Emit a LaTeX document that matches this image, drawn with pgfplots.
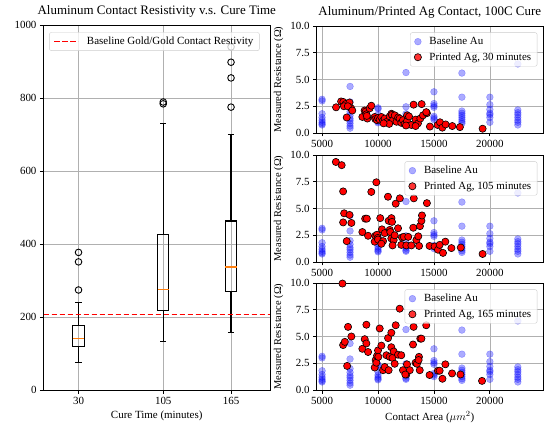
\documentclass[border=0pt]{standalone}
\usepackage{fontspec}
\setmainfont{Liberation Serif}
\usepackage{pgfplots}
\usepackage{pgfplotstable}
\pgfplotsset{compat=1.18}
\usepgfplotslibrary{statistics}
\definecolor{mplorange}{HTML}{FF7F0E}
\definecolor{gridgray}{HTML}{B0B0B0}
\definecolor{legedge}{HTML}{CCCCCC}

\pgfplotstableread{
x y
5000 3.15
5000 3.0
5000 1.8
5000 1.45
5000 1.2
5000 1.0
5000 0.85
5000 0.75
7500 4.35
7500 2.9
7500 2.0
7500 1.65
7500 1.35
7500 1.15
7500 0.9
7500 0.65
7500 0.45
10000 2.35
10000 2.25
10000 1.7
10000 1.4
10000 1.2
10000 1.05
10000 0.95
12500 5.65
12500 2.45
12500 1.8
12500 1.5
12500 1.3
12500 1.1
12500 1.0
15000 3.85
15000 2.75
15000 2.55
15000 2.4
15000 1.55
15000 1.4
15000 1.25
17500 5.6
17500 3.35
17500 2.05
17500 1.85
17500 1.65
17500 1.45
17500 1.25
17500 1.05
17500 0.9
20000 3.35
20000 2.65
20000 2.2
20000 1.85
20000 1.7
20000 1.45
20000 1.0
22500 6.45
22500 2.15
22500 1.9
22500 1.7
22500 1.45
22500 1.2
22500 1.0
22500 0.75
}\au

\pgfplotstableread{
x y
6250 2.4
6700 2.95
6900 2.9
7100 2.7
7450 2.85
7600 2.3
6950 2.5
7300 2.5
7700 2.1
7200 1.45
8600 1.5
8800 2.1
8900 2.0
8960 1.75
9050 1.35
9250 2.3
9400 2.55
9000 1.6
9700 1.5
9760 1.3
9900 1.2
10000 1.4
10150 1.25
10300 1.5
10450 1.15
10600 1.35
10800 1.05
11040 1.55
11200 1.8
11250 1.7
11340 1.2
11500 1.65
11650 1.05
11800 1.45
11930 1.35
12080 0.95
12230 1.2
12380 0.85
12590 1.1
12600 1.65
12770 1.55
12980 0.75
13180 2.65
13360 1.25
13570 0.9
13780 1.35
13900 2.7
14020 1.65
14370 1.85
14310 1.95
13360 0.65
12500 0.7
11000 0.85
10500 0.9
14640 0.6
15330 0.75
15540 1.0
15750 0.5
16040 0.8
16640 0.65
17320 0.55
19350 0.4
}\agA

\pgfplotstableread{
x y
6230 9.35
6750 9.05
6880 6.6
6970 4.55
7450 4.4
6880 3.7
7620 3.65
7200 1.95
8600 2.8
8850 4.05
9000 4.05
9110 2.45
9400 6.55
9850 7.45
9700 1.9
9760 2.45
9910 2.55
9970 2.25
10000 2.1
10200 4.1
10350 3.05
10450 1.95
10600 2.7
10890 6.1
10950 3.85
11200 4.1
11050 3.0
11100 2.8
11190 2.2
11250 3.75
11400 2.05
11490 2.5
11580 5.45
11790 3.15
11950 5.95
12080 1.6
12140 2.3
12300 2.35
12530 1.55
12700 2.35
12980 1.55
13200 5.95
13150 3.2
13430 2.05
13600 2.4
13750 3.35
13880 3.85
13930 4.35
13670 1.5
14370 5.5
14610 1.5
15060 1.45
15360 1.15
15510 1.6
15810 0.85
16020 1.9
16560 1.3
17400 1.35
19350 0.75
10300 1.7
11300 1.55
}\agB

\pgfplotstableread{
x y
6820 9.95
6880 4.2
7030 4.5
7320 5.9
7620 5.0
7240 2.25
8600 3.85
8960 6.1
8810 4.75
8960 4.35
9110 3.55
9700 2.1
9790 2.8
9910 3.2
10000 3.7
9850 2.55
10030 3.1
10150 5.75
10300 4.15
10450 1.85
10600 2.15
10750 3.25
10900 4.85
11040 3.1
11190 5.35
11190 4.0
11290 3.0
11400 3.6
11490 2.45
11580 6.05
11790 3.3
11940 7.6
12080 3.25
12230 1.85
12530 1.45
12590 2.4
12840 1.85
13130 4.25
13180 5.9
13360 2.55
13480 2.45
13660 3.1
13780 4.8
13880 4.8
13730 1.85
14310 6.05
14610 1.4
15360 1.8
15510 1.8
15760 1.05
16020 2.4
16620 1.55
17370 1.45
19300 0.85
10950 1.85
12440 1.45
13630 2.8
}\agC

\pgfplotsset{
  base/.style={
    scale only axis, anchor=south west,
    /pgf/number format/assume math mode=true,
    /pgf/number format/1000 sep={},
    tick label style={font=\fontsize{11}{13}\selectfont},
    label style={font=\fontsize{11}{13}\selectfont},
    title style={font=\fontsize{13}{15}\selectfont, yshift=-1.5bp},
    legend style={font=\fontsize{11}{13}\selectfont, draw=legedge, rounded corners=2bp,
      fill=white, fill opacity=0.8, draw opacity=1, text opacity=1,
      inner xsep=4bp, inner ysep=2.5bp, row sep=2.5bp,
      /tikz/every odd column/.append style={column sep=6bp}},
    legend cell align=left,
    grid=major, grid style={gridgray, line width=0.6bp},
    axis line style={line width=0.8bp},
    tick align=outside, xtick pos=bottom, ytick pos=left,
    major tick length=3.5bp, tick style={black, line width=0.8bp},
  },
  right/.style={
    base, at={(316.5bp,#1)}, width=226.5bp, height=107bp,
    xmin=4500, xmax=24750, ymin=0, ymax=10,
    xtick={5000,10000,15000,20000}, ytick={0,2.5,5,7.5,10},
    scaled x ticks=false, scaled y ticks=false,
    yticklabel style={/pgf/number format/.cd, fixed, fixed zerofill, precision=1},
    ylabel={Measured Resistance (Ω)},
    ylabel style={font=\fontsize{10.5}{12}\selectfont},
    legend style={at={(0.975,0.94)}, anchor=north east},
  },
  aumark/.style={only marks, mark=*, mark size=3.4bp, mark options={draw=blue, fill=blue, opacity=0.33},
    legend image code/.code={\draw[##1] plot coordinates {(11bp,0bp)};}},
  agmark/.style={only marks, mark=*, mark size=3.6bp, mark options={draw=black, fill=red, line width=0.6bp},
    legend image code/.code={\draw[##1] plot coordinates {(11bp,0bp)};}},
  bx/.style={draw=black, line width=1.1bp, mark=o, mark size=3.3bp, mark options={draw=black, line width=0.9bp}, forget plot,
    boxplot/every box/.style={draw=black, line width=1.1bp},
    boxplot/every whisker/.style={draw=black, line width=1.1bp},
    boxplot/every median/.style={draw=mplorange, line width=1.2bp}},
  redline/.style={draw=red, line width=1.5bp, dash pattern=on 5.5bp off 2.5bp},
}

\begin{document}
\begin{tikzpicture}
\useasboundingbox (0,0) rectangle (553bp,425bp);

% left: box plots
\begin{axis}[base, at={(43.5bp,35bp)}, width=226.5bp, height=365bp,
  xmin=-1, xmax=199.5, ymin=0, ymax=1000,
  xtick={30,105,165}, ytick={0,200,400,600,800,1000},
  xlabel={Cure Time (minutes)},
  title={Aluminum Contact Resistivity v.s. Cure Time},
  legend style={at={(0.025,0.98)}, anchor=north west},
]
\addplot[redline,
  legend image code/.code={\draw[draw=red, line width=1.6bp, dash pattern=on 5.5bp off 2.5bp] (0bp,0bp) -- (24bp,0bp);}]
  coordinates {(-1,207.5) (199.5,207.5)};
\addlegendentry{Baseline Gold/Gold Contact Restivity}
\addplot[bx, boxplot prepared={draw direction=y, box extend=10, whisker extend=5.5,
  draw position=30, lower whisker=76, lower quartile=118,
  median=141, upper quartile=175.5, upper whisker=240}]
  coordinates {(0,274) (0,351) (0,377)};
\addplot[bx, boxplot prepared={draw direction=y, box extend=10, whisker extend=5.5,
  draw position=105, lower whisker=132.5, lower quartile=217.5,
  median=275, upper quartile=427, upper whisker=729}]
  coordinates {(0,784) (0,789)};
\addplot[bx, boxplot prepared={draw direction=y, box extend=10, whisker extend=5.5,
  draw position=165, lower whisker=157, lower quartile=270,
  median=337, upper quartile=463, upper whisker=700}]
  coordinates {(0,775) (0,855) (0,898) (0,940)};
\addplot[redline, forget plot] coordinates {(-1,207.5) (199.5,207.5)};
\end{axis}

% right top
\begin{axis}[right=292bp, title={Aluminum/Printed Ag Contact, 100C Cure}]
\addplot[aumark] table[x=x,y=y] {\au};
\addlegendentry{Baseline Au}
\addplot[agmark] table[x=x,y=y] {\agA};
\addlegendentry{Printed Ag, 30 minutes}
\end{axis}

% right middle
\begin{axis}[right=163bp]
\addplot[aumark] table[x=x,y=y] {\au};
\addlegendentry{Baseline Au}
\addplot[agmark] table[x=x,y=y] {\agB};
\addlegendentry{Printed Ag, 105 minutes}
\end{axis}

% right bottom
\begin{axis}[right=35bp, xlabel={Contact Area ($\mu m^2$)}]
\addplot[aumark] table[x=x,y=y] {\au};
\addlegendentry{Baseline Au}
\addplot[agmark] table[x=x,y=y] {\agC};
\addlegendentry{Printed Ag, 165 minutes}
\end{axis}
\end{tikzpicture}
\end{document}
